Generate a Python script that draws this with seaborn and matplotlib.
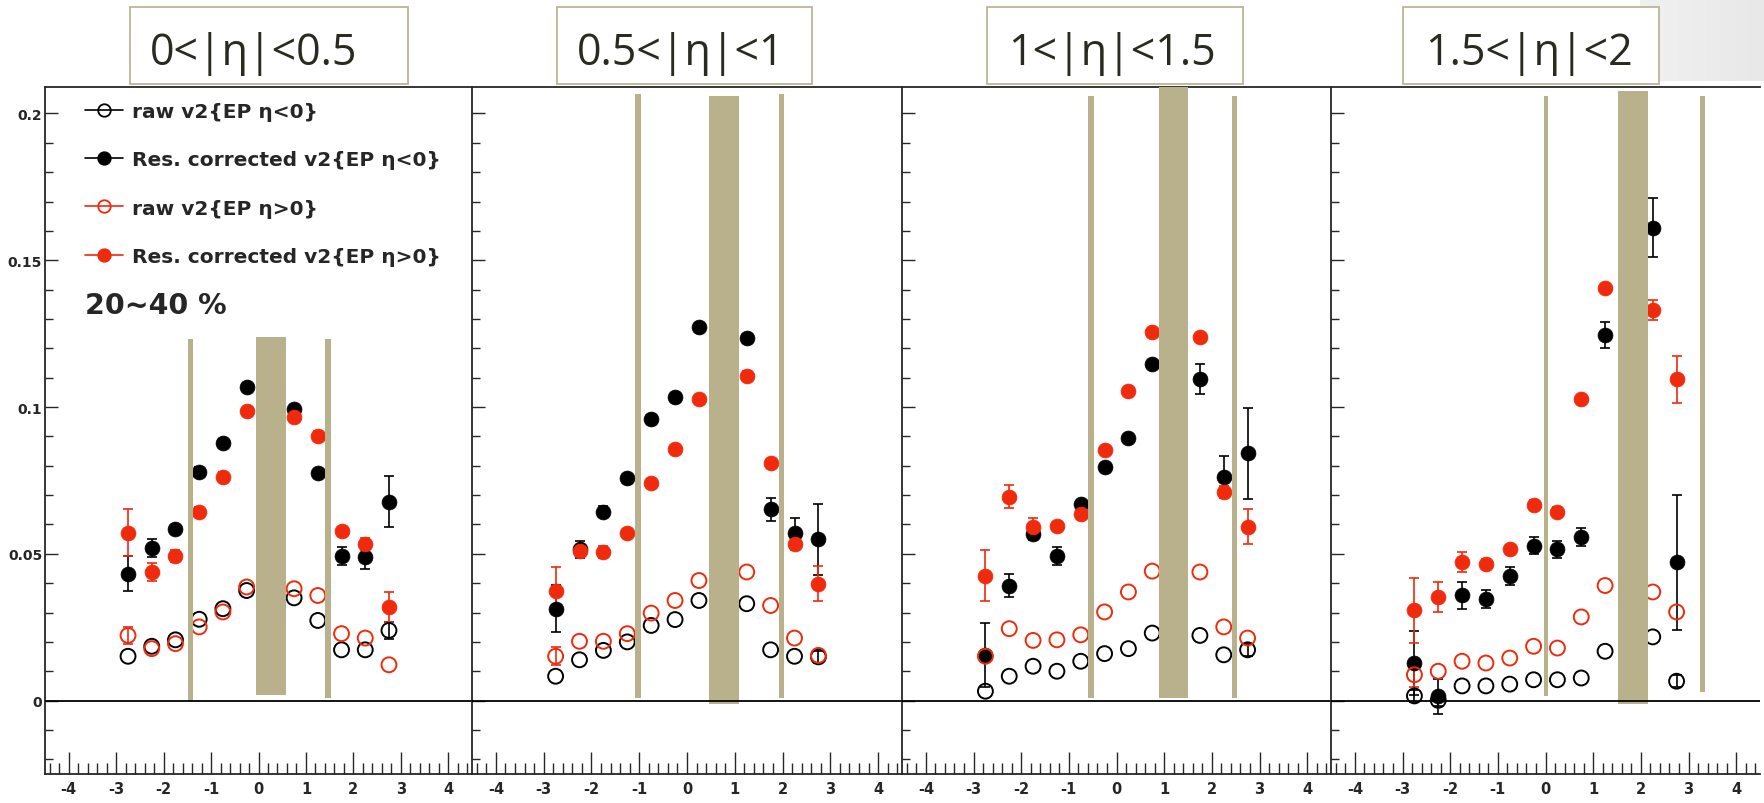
import matplotlib
matplotlib.use("Agg")
import matplotlib.pyplot as plt
import matplotlib.ticker as mticker
from matplotlib.lines import Line2D
from matplotlib.patches import Rectangle
import numpy as np
import seaborn as sns

# eta slices (one panel each)
slice_labels = ["0<|η|<0.5", "0.5<|η|<1", "1<|η|<1.5", "1.5<|η|<2"]

# eta bin centres per panel (the bin hidden under the big band is empty)
eta_bins = [
    [-2.75, -2.25, -1.75, -1.25, -0.75, -0.25, 0.75, 1.25, 1.75, 2.25, 2.75],
    [-2.75, -2.25, -1.75, -1.25, -0.75, -0.25, 0.25, 1.25, 1.75, 2.25, 2.75],
    [-2.75, -2.25, -1.75, -1.25, -0.75, -0.25, 0.25, 0.75, 1.75, 2.25, 2.75],
    [-2.75, -2.25, -1.75, -1.25, -0.75, -0.25, 0.25, 0.75, 1.25, 2.25, 2.75],
]

# raw v2{EP eta<0}
raw_neg = [
    [0.0151, 0.0185, 0.0207, 0.0277, 0.0313, 0.0375, 0.0350, 0.0273, 0.0173, 0.0173, 0.0239],
    [0.0083, 0.0139, 0.0171, 0.0200, 0.0256, 0.0276, 0.0341, 0.0330, 0.0173, 0.0151, 0.0149],
    [0.0032, 0.0083, 0.0117, 0.0100, 0.0134, 0.0160, 0.0177, 0.0230, 0.0222, 0.0156, 0.0173],
    [0.0016, 0.0001, 0.0050, 0.0050, 0.0056, 0.0071, 0.0071, 0.0077, 0.0168, 0.0217, 0.0066],
]
raw_neg_err = [
    [0, 0, 0, 0, 0, 0, 0, 0, 0, 0, 0.003],
    [0, 0, 0, 0, 0, 0, 0, 0, 0, 0, 0.002],
    [0, 0, 0, 0, 0, 0, 0, 0, 0, 0, 0.002],
    [0.002, 0.002, 0, 0, 0, 0, 0, 0, 0, 0, 0.002],
]

# resolution corrected v2{EP eta<0}
res_neg = [
    [0.0432, 0.0520, 0.0583, 0.0780, 0.0877, 0.1067, 0.0993, 0.0774, 0.0492, 0.0489, 0.0678],
    [0.0313, 0.0515, 0.0644, 0.0757, 0.0959, 0.1033, 0.1274, 0.1234, 0.0651, 0.0571, 0.0549],
    [0.0156, 0.0392, 0.0568, 0.0492, 0.0668, 0.0797, 0.0893, 0.1146, 0.1095, 0.0763, 0.0842],
    [0.0128, 0.0015, 0.0358, 0.0347, 0.0424, 0.0528, 0.0515, 0.0557, 0.1246, 0.1611, 0.0472],
]
res_neg_err = [
    [0.006, 0.003, 0.0015, 0.0015, 0.0015, 0.001, 0.0015, 0.0015, 0.003, 0.004, 0.0086],
    [0.008, 0.003, 0.002, 0.0015, 0.0015, 0.001, 0.001, 0.0015, 0.004, 0.005, 0.012],
    [0.011, 0.004, 0.002, 0.003, 0.0015, 0.001, 0.001, 0.001, 0.005, 0.007, 0.0156],
    [0.011, 0.006, 0.0045, 0.003, 0.003, 0.003, 0.003, 0.003, 0.0045, 0.010, 0.023],
]

# raw v2{EP eta>0}
raw_pos = [
    [0.0222, 0.0177, 0.0194, 0.0251, 0.0302, 0.0387, 0.0381, 0.0358, 0.0228, 0.0213, 0.0122],
    [0.0151, 0.0202, 0.0202, 0.0228, 0.0298, 0.0341, 0.0409, 0.0438, 0.0324, 0.0213, 0.0154],
    [0.0151, 0.0245, 0.0205, 0.0207, 0.0224, 0.0302, 0.0370, 0.0441, 0.0438, 0.0251, 0.0213],
    [0.0088, 0.0100, 0.0134, 0.0128, 0.0145, 0.0185, 0.0179, 0.0285, 0.0392, 0.0370, 0.0302],
]
raw_pos_err = [
    [0.003, 0, 0, 0, 0, 0, 0, 0, 0, 0, 0],
    [0.003, 0, 0, 0, 0, 0, 0, 0, 0, 0, 0],
    [0.002, 0, 0, 0, 0, 0, 0, 0, 0, 0, 0],
    [0.004, 0, 0, 0, 0, 0, 0, 0, 0, 0, 0],
]

# resolution corrected v2{EP eta>0}
res_pos = [
    [0.0571, 0.0438, 0.0492, 0.0644, 0.0763, 0.0987, 0.0965, 0.0902, 0.0577, 0.0534, 0.0319],
    [0.0375, 0.0511, 0.0506, 0.0571, 0.0740, 0.0857, 0.1027, 0.1107, 0.0808, 0.0532, 0.0398],
    [0.0426, 0.0695, 0.0591, 0.0594, 0.0634, 0.0854, 0.1056, 0.1257, 0.1240, 0.0710, 0.0593],
    [0.0307, 0.0353, 0.0472, 0.0466, 0.0515, 0.0667, 0.0644, 0.1027, 0.1404, 0.1331, 0.1095],
]
res_pos_err = [
    [0.008, 0.003, 0.002, 0.0015, 0.0015, 0.001, 0.0015, 0.0015, 0.0015, 0.002, 0.005],
    [0.008, 0.002, 0.002, 0.0015, 0.0015, 0.001, 0.001, 0.0015, 0.0015, 0.002, 0.006],
    [0.0087, 0.004, 0.003, 0.0015, 0.0015, 0.001, 0.001, 0.001, 0.001, 0.002, 0.006],
    [0.011, 0.005, 0.0035, 0.0015, 0.0015, 0.0015, 0.0015, 0.001, 0.001, 0.0034, 0.008],
]

# detector acceptance bands: two thin edges + one wide band per panel
band_left = [[-1.49, 1.41, -0.05], [-1.08, 1.93, 0.45], [-0.59, 2.42, 0.89], [-0.04, 3.24, 1.52]]
band_right = [[-1.38, 1.52, 0.58], [-0.97, 2.04, 1.08], [-0.48, 2.53, 1.50], [0.06, 3.35, 2.14]]
band_top = [[0.123, 0.123, 0.124], [0.2065, 0.2065, 0.206], [0.206, 0.206, 0.212], [0.206, 0.206, 0.2075]]
band_bottom = [[0.0, 0.001, 0.002], [0.001, 0.001, -0.001], [0.001, 0.001, 0.001], [0.0014, 0.003, -0.001]]

centrality = "20~40 %"

sns.set_style("ticks")
plt.rcParams["font.family"] = ["DejaVu Sans"]
plt.rcParams["font.weight"] = "bold"
plt.rcParams["axes.unicode_minus"] = False
plt.rcParams["xtick.direction"] = "in"
plt.rcParams["ytick.direction"] = "in"

RED = "#f02a0c"
TAN = "#b8b18c"
W, H = 1764, 804

fig = plt.figure(figsize=(W / 100, H / 100), dpi=100)

# faint grey slide gradient in the top right corner
bg = fig.add_axes([1640 / W, 1 - 82 / H, 124 / W, 82 / H], zorder=-1)
grad = np.linspace(0, 1, 200)[None, :] * np.ones((20, 1))
bg.imshow(grad, aspect="auto", cmap=sns.light_palette("#e8e8e8", as_cmap=True),
          vmin=0, vmax=1, extent=[0, 1, 0, 1])
bg.axis("off")

panel_px = [(45, 472), (472, 902), (902, 1331), (1331, 1760)]
box_px = [(130, 408, 150), (557, 812, 577), (987, 1243, 1008), (1403, 1659, 1425)]

series = [
    ("raw v2{EP η<0}", raw_neg, raw_neg_err, "black", False),
    ("Res. corrected v2{EP η<0}", res_neg, res_neg_err, "black", True),
    ("raw v2{EP η>0}", raw_pos, raw_pos_err, RED, False),
    ("Res. corrected v2{EP η>0}", res_pos, res_pos_err, RED, True),
]

for i in range(4):
    l, r = panel_px[i]
    ax = fig.add_axes([l / W, (H - 775) / H, (r - l) / W, (775 - 88) / H])

    for label, vals, errs, c, filled in series:
        x = np.array(eta_bins[i])
        y = np.array(vals[i])
        e = np.array(errs[i])
        has_err = e > 0
        # only bars that stick out of the marker
        ax.errorbar(x[has_err], y[has_err], yerr=e[has_err], fmt="none", ecolor=c,
                    elinewidth=1.2, capsize=3.6, capthick=1.2, zorder=2)
        if filled:
            sns.scatterplot(x=x, y=y, ax=ax, marker="o", s=115,
                            color=c, edgecolor=c, linewidth=0.5, zorder=3)
        else:
            sns.scatterplot(x=x, y=y, ax=ax, marker="o", s=115,
                            facecolor="none", edgecolor=c, linewidth=1.4, zorder=3)

    # acceptance bands drawn over the points
    lefts = np.array(band_left[i])
    rights = np.array(band_right[i])
    ax.bar((lefts + rights) / 2, np.array(band_top[i]) - np.array(band_bottom[i]),
           bottom=band_bottom[i], width=rights - lefts, color=TAN, zorder=5, linewidth=0)

    ax.axhline(0, color="black", lw=1.3, zorder=6)

    ax.set_xlim(-4.5, 4.5)
    ax.set_ylim(-0.025, 0.209)
    ax.xaxis.set_major_locator(mticker.MultipleLocator(1))
    ax.xaxis.set_minor_locator(mticker.MultipleLocator(0.2))
    ax.yaxis.set_major_locator(mticker.MultipleLocator(0.05))
    ax.yaxis.set_minor_locator(mticker.MultipleLocator(0.01))
    ax.yaxis.set_major_formatter(mticker.FuncFormatter(lambda v, p: f"{v:g}"))
    ax.tick_params(axis="x", which="major", length=15.5, width=1.0, pad=5, labelsize=10.5)
    ax.tick_params(axis="x", which="minor", length=8, width=1.0)
    ax.tick_params(axis="y", which="major", length=9.5, width=1.0, pad=2, labelsize=10)
    ax.tick_params(axis="y", which="minor", length=6, width=1.0)
    if i > 0:
        ax.tick_params(axis="y", labelleft=False)
    for side in ["left", "bottom", "top"]:
        ax.spines[side].set_visible(True)
        ax.spines[side].set_linewidth(1.3)
    ax.spines["right"].set_visible(False)
    ax.set_xlabel("")
    ax.set_ylabel("")
    ax.patch.set_alpha(0)

    if i == 0:
        handles = [Line2D([0], [0], color=c, lw=1.2, marker="o", markersize=9,
                          markerfacecolor=(c if filled else "none"), markeredgecolor=c,
                          markeredgewidth=1.3)
                   for label, vals, errs, c, filled in series]
        ax.legend(handles, [s[0] for s in series], loc="upper left",
                  bbox_to_anchor=(0.094, 0.978), frameon=False, borderpad=0,
                  borderaxespad=0, fontsize=14.5, handlelength=1.9,
                  handletextpad=0.45, labelspacing=1.45)
        ax.text(0.094, 0.683, centrality, transform=ax.transAxes, fontsize=20.5,
                fontweight="bold", va="center", ha="left")

    # slide title boxes
    x0, x1, xt = box_px[i]
    fig.patches.append(Rectangle((x0 / W, 1 - 85 / H), (x1 - x0) / W, 77 / H,
                                 transform=fig.transFigure, facecolor="white",
                                 edgecolor="#bab595", linewidth=1.3, zorder=1))
    fig.text(xt / W, 1 - 65 / H, slice_labels[i], fontsize=31,
             family=["Open Sans", "DejaVu Sans"], fontweight="normal",
             color="#2b2a20", ha="left", va="baseline", zorder=2)

fig.savefig("out.png", dpi=100)
